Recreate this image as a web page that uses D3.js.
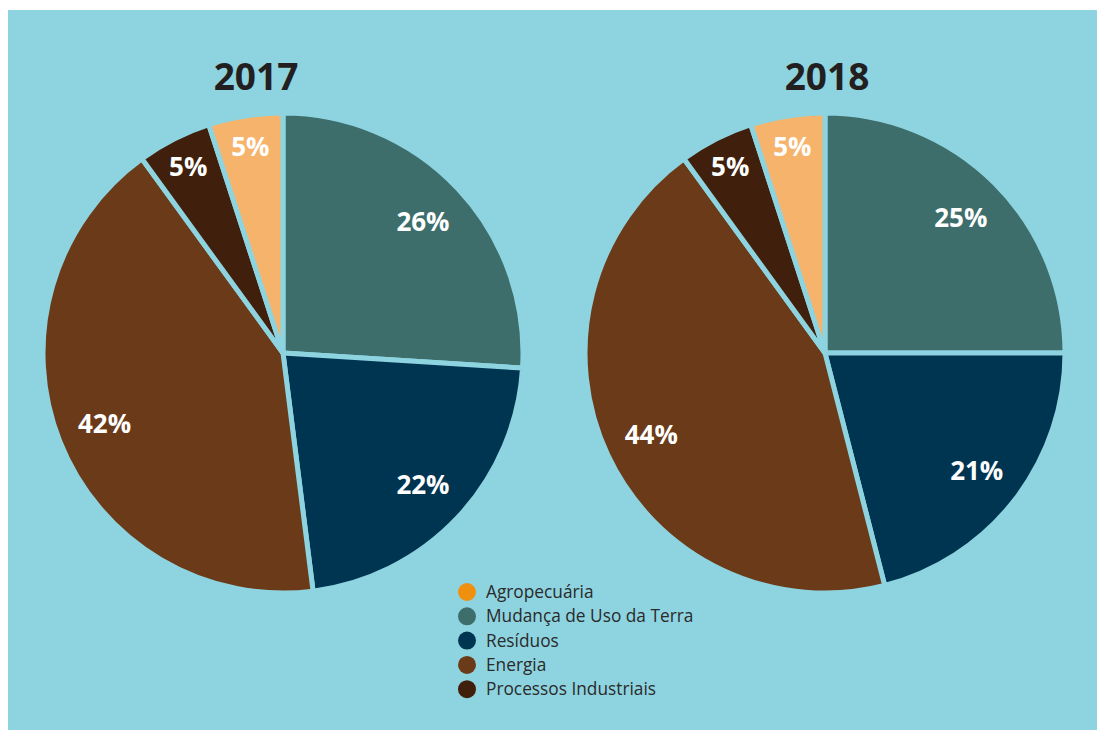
<!DOCTYPE html>
<html>
<head>
<meta charset="utf-8">
<script src="https://cdn.jsdelivr.net/npm/d3@7"></script>
<style>
  html, body { margin: 0; padding: 0; background: #fff; }
  svg { display: block; }
</style>
</head>
<body>
<script>
const categories = ['Agropecuária', 'Mudança de Uso da Terra', 'Resíduos', 'Energia', 'Processos Industriais']
const years = ['2017', '2018']
const values2017 = [5, 26, 22, 42, 5]
const values2018 = [5, 25, 21, 44, 5]
// order the slices are drawn in, clockwise from the top
const sliceOrder = ['Mudança de Uso da Terra', 'Resíduos', 'Energia', 'Processos Industriais', 'Agropecuária']

const sliceColors = ['#f5b36b', '#3d6e6b', '#003552', '#6b3a18', '#40200c']
const legendColors = ['#f0900f', '#3d6e6b', '#003552', '#6b3a18', '#40200c']
const bg = '#8ed4e0'

const width = 1097
const height = 730
const radius = 240

const svg = d3.select('body')
  .append('svg')
  .attr('width', width)
  .attr('height', height)

svg.append('rect')
  .attr('x', 8)
  .attr('y', 10)
  .attr('width', width - 8)
  .attr('height', height - 10)
  .attr('fill', bg)

const color = d3.scaleOrdinal().domain(categories).range(sliceColors)
const legendColor = d3.scaleOrdinal().domain(categories).range(legendColors)

const pie = d3.pie()
  .sort(null)
  .value(d => d.value)

const arc = d3.arc().innerRadius(0).outerRadius(radius)
// centroid() sits at half of outerRadius, so these give label rings at ~0.8r and ~0.87r
const labelArc = d3.arc().innerRadius(0).outerRadius(radius * 1.6)
const smallLabelArc = d3.arc().innerRadius(0).outerRadius(radius * 1.74)

const charts = [
  { year: years[0], values: values2017, cx: 283, cy: 353, titleX: 256 },
  { year: years[1], values: values2018, cx: 825, cy: 353, titleX: 827 }
]

charts.forEach(c => {
  const data = sliceOrder.map(name => ({ name, value: c.values[categories.indexOf(name)] }))
  const arcs = pie(data)

  const g = svg.append('g')
    .attr('transform', `translate(${c.cx}, ${c.cy})`)

  g.selectAll('path')
    .data(arcs)
    .enter()
    .append('path')
    .attr('d', arc)
    .attr('fill', d => color(d.data.name))
    .attr('stroke', bg)
    .attr('stroke-width', 5)
    .attr('stroke-linejoin', 'round')

  g.selectAll('text')
    .data(arcs)
    .enter()
    .append('text')
    .attr('transform', d => `translate(${(d.data.value < 10 ? smallLabelArc : labelArc).centroid(d)})`)
    .attr('text-anchor', 'middle')
    .attr('dy', '0.36em')
    .attr('fill', '#fff')
    .attr('font-family', 'Open Sans, sans-serif')
    .attr('font-weight', 700)
    .attr('font-size', 26)
    .text(d => d.data.value + '%')

  svg.append('text')
    .attr('x', c.titleX)
    .attr('y', 90)
    .attr('text-anchor', 'middle')
    .attr('fill', '#231f20')
    .attr('font-family', 'Open Sans, sans-serif')
    .attr('font-weight', 700)
    .attr('font-size', 37)
    .text(c.year)
})

const legend = svg.append('g')
  .attr('transform', 'translate(467, 592)')

const row = legend.selectAll('g')
  .data(categories)
  .enter()
  .append('g')
  .attr('transform', (d, i) => `translate(0, ${i * 24.3})`)

row.append('circle')
  .attr('r', 9)
  .attr('fill', d => legendColor(d))

row.append('text')
  .attr('x', 19)
  .attr('dy', '0.35em')
  .attr('fill', '#2a2a2a')
  .attr('font-family', 'Open Sans, sans-serif')
  .attr('font-size', 17.3)
  .text(d => d)
</script>
</body>
</html>
